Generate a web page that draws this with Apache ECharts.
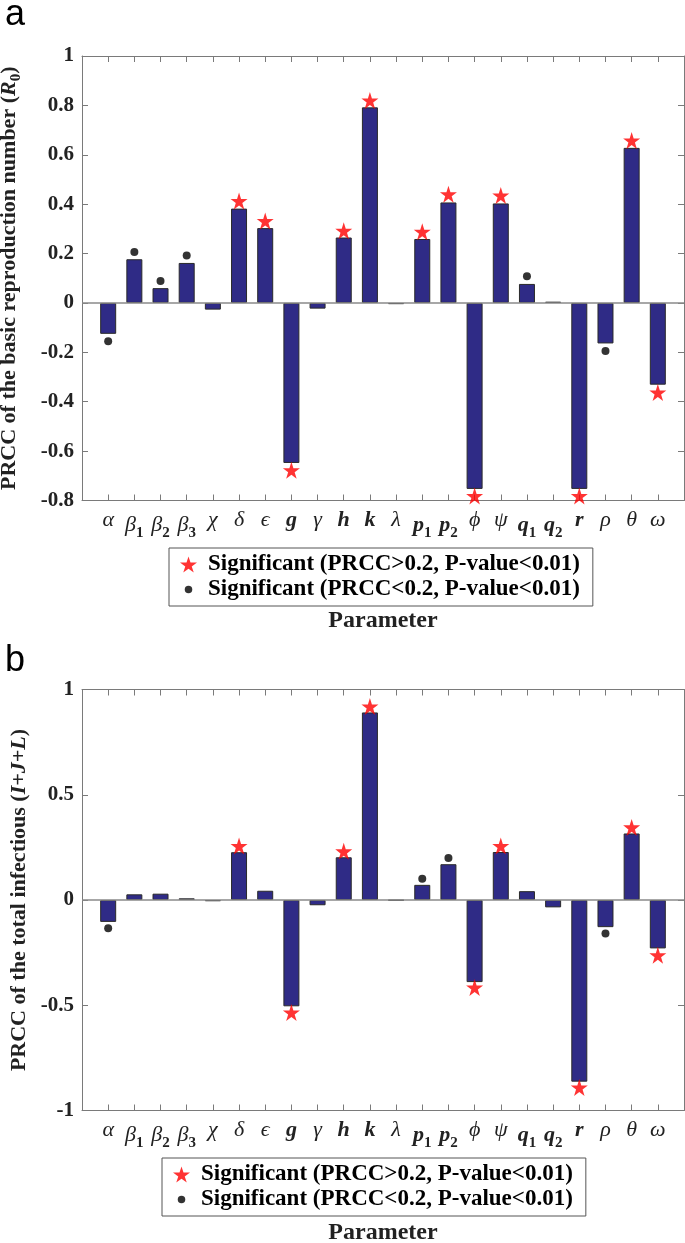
<!DOCTYPE html>
<html>
<head>
<meta charset="utf-8">
<script src="https://cdn.jsdelivr.net/npm/echarts@6/dist/echarts.min.js"></script>
<style>
html,body{margin:0;padding:0;background:#fff;}
#chart{width:685px;height:1243px;}
</style>
</head>
<body>
<div id="chart"></div>
<script>
// ---------------- data ----------------
const parameters = ['α','β_1','β_2','β_3','χ','δ','ϵ','g','γ','h','k','λ','p_1','p_2','ϕ','ψ','q_1','q_2','r','ρ','θ','ω'];

// panel a: PRCC of R0
const r0Values = [-0.125, 0.177, 0.060, 0.162, -0.027, 0.382, 0.303, -0.648, -0.023, 0.265, 0.792, -0.005,
                  0.259, 0.407, -0.753, 0.403, 0.077, 0.005, -0.753, -0.164, 0.628, -0.331];
const r0MarkerY = [-0.155, 0.206, 0.089, 0.192, null, 0.413, 0.332, -0.678, null, 0.292, 0.820, null,
                   0.288, 0.440, -0.782, 0.435, 0.108, null, -0.782, -0.195, 0.658, -0.363];
const r0Sig = ['dot','dot','dot','dot',null,'star','star','star',null,'star','star',null,
               'star','star','star','star','dot',null,'star','dot','star','star'];

// panel b: PRCC of total infectious
const infValues = [-0.104, 0.027, 0.030, 0.008, -0.006, 0.227, 0.044, -0.505, -0.025, 0.203, 0.891, -0.002,
                   0.072, 0.170, -0.390, 0.228, 0.042, -0.035, -0.863, -0.129, 0.316, -0.230];
const infMarkerY = [-0.134, null, null, null, null, 0.256, null, -0.535, null, 0.231, 0.919, null,
                    0.101, 0.200, -0.416, 0.256, null, null, -0.891, -0.159, 0.345, -0.263];
const infSig = ['dot',null,null,null,null,'star',null,'star',null,'star','star',null,
                'dot','dot','star','star',null,null,'star','dot','star','star'];

const yTicksA = {min: -0.8, max: 1, interval: 0.2};
const yTicksB = {min: -1, max: 1, interval: 0.5};

const starName = 'Significant (PRCC>0.2, P-value<0.01)';
const dotName = 'Significant (PRCC<0.2, P-value<0.01)';
const yNameA = '{t|PRCC of the basic reproduction number (}{bi|R}{s|0}{t|)}';
const yNameB = '{t|PRCC of the total infectious (}{bi|I+J+L}{t|)}';
const xName = 'Parameter';

// ---------------- styling ----------------
const SERIF = "'Liberation Serif','Times New Roman',serif";
const AX = '#7a7a7a';
const starPath = 'path://M50,0 L61.2,34.5 L97.6,34.5 L68.2,55.9 L79.4,90.5 L50,69.1 L20.6,90.5 L31.8,55.9 L2.4,34.5 L38.8,34.5 Z';
const dotIcon = 'path://M2.4,0 M97.6,90.5 M50,24 A21,21 0 1,1 50,66 A21,21 0 1,1 50,24 Z';

function labelFor(v) {
  if (Math.abs(v - Math.round(v)) > 1e-6) return '';
  const i = Math.round(v) - 1;
  if (i < 0 || i >= parameters.length) return '';
  const p = parameters[i].split('_');
  const base = /[a-z]/.test(p[0]) ? '{l|' + p[0] + '}' : '{g|' + p[0] + '}';
  return p.length > 1 ? base + '{s|' + p[1] + '}' : base;
}
const xRich = {
  g: {fontFamily: SERIF, fontStyle: 'italic', fontSize: 22, color: '#222'},
  l: {fontFamily: SERIF, fontStyle: 'italic', fontWeight: 'bold', fontSize: 22, color: '#222'},
  s: {fontFamily: SERIF, fontWeight: 'bold', fontSize: 15, color: '#222', padding: [16, 0, 0, 0]}
};
const nameRich = {
  t: {fontFamily: SERIF, fontWeight: 'bold', fontSize: 22, color: '#222'},
  bi: {fontFamily: SERIF, fontWeight: 'bold', fontStyle: 'italic', fontSize: 22, color: '#222'},
  s: {fontFamily: SERIF, fontWeight: 'bold', fontSize: 15, color: '#222', padding: [14, 0, 0, 0]}
};

function xAxesFor(g) {
  const common = {gridIndex: g, type: 'value', min: 0, max: parameters.length + 1, interval: 1,
    axisLine: {onZero: false, lineStyle: {color: AX, width: 1}},
    axisTick: {inside: true, length: 6, lineStyle: {color: AX}},
    splitLine: {show: false}};
  return [
    Object.assign({}, common, {position: 'bottom',
      axisLabel: {formatter: labelFor, rich: xRich, margin: 9},
      name: xName, nameLocation: 'middle', nameGap: g === 0 ? 108 : 110,
      nameTextStyle: {fontFamily: SERIF, fontWeight: 'bold', fontSize: 24, color: '#222'}}),
    Object.assign({}, common, {position: 'top', axisLabel: {show: false}})
  ];
}
function yAxesFor(g, t, name, gap) {
  const common = {gridIndex: g, type: 'value', min: t.min, max: t.max, interval: t.interval,
    axisLine: {onZero: false, lineStyle: {color: AX, width: 1}},
    axisTick: {inside: true, length: 6, lineStyle: {color: AX}},
    splitLine: {show: false}};
  return [
    Object.assign({}, common, {position: 'left',
      axisLabel: {fontFamily: SERIF, fontWeight: 'bold', fontSize: 21, color: '#222', margin: 8,
        formatter: v => String(+v.toFixed(2))},
      name: name, nameLocation: 'middle', nameGap: gap,
      nameTextStyle: {rich: nameRich}}),
    Object.assign({}, common, {position: 'right', axisLabel: {show: false}})
  ];
}
function seriesFor(g, values, markerY, sig) {
  const bars = values.map((v, i) => [i + 1, v]);
  const stars = [], dots = [];
  sig.forEach((s, i) => {
    if (s === 'star') stars.push([i + 1, markerY[i]]);
    else if (s === 'dot') dots.push([i + 1, markerY[i]]);
  });
  const xi = g * 2, yi = g * 2;
  return [
    {type: 'bar', xAxisIndex: xi, yAxisIndex: yi, data: bars, barWidth: 16,
      itemStyle: {color: '#2f2b86', borderColor: '#2a2a2a', borderWidth: 1},
      markLine: {silent: true, symbol: 'none', label: {show: false},
        lineStyle: {color: '#8a8a8a', width: 1.5, type: 'solid'}, data: [{yAxis: 0}]},
      z: 2},
    {type: 'scatter', name: starName, xAxisIndex: xi, yAxisIndex: yi, data: stars,
      symbol: starPath, symbolSize: 17, itemStyle: {color: '#ff0000'}, z: 3},
    {type: 'scatter', name: dotName, xAxisIndex: xi, yAxisIndex: yi, data: dots,
      symbol: 'circle', symbolSize: 8, itemStyle: {color: '#000'}, z: 3}
  ];
}
function legendFor(left, top) {
  return {left: left, top: top, orient: 'vertical', itemGap: 0, itemWidth: 17, itemHeight: 17,
    padding: [4, 13, 4, 11], borderColor: '#555', borderWidth: 1, backgroundColor: '#fff',
    selectedMode: false,
    textStyle: {fontFamily: SERIF, fontWeight: 'bold', fontSize: 23, color: '#000', lineHeight: 25, padding: [0, 0, 0, 6]},
    data: [{name: starName, icon: starPath}, {name: dotName, icon: dotIcon}]};
}

const option = {
  animation: false,
  backgroundColor: '#fff',
  title: [
    {text: 'a', left: 0, top: -8, textStyle: {fontFamily: "'Liberation Sans',Arial,sans-serif", fontWeight: 'normal', fontSize: 36, color: '#000'}},
    {text: 'b', left: 0, top: 638, textStyle: {fontFamily: "'Liberation Sans',Arial,sans-serif", fontWeight: 'normal', fontSize: 36, color: '#000'}}
  ],
  grid: [
    {left: 82, top: 56, width: 602, height: 444.5, outerBoundsMode: 'none', containLabel: false},
    {left: 82, top: 689.5, width: 602, height: 421, outerBoundsMode: 'none', containLabel: false}
  ],
  legend: [legendFor(169, 548), legendFor(162, 1158)],
  xAxis: xAxesFor(0).concat(xAxesFor(1)),
  yAxis: yAxesFor(0, yTicksA, yNameA, 58).concat(yAxesFor(1, yTicksB, yNameB, 52)),
  series: seriesFor(0, r0Values, r0MarkerY, r0Sig).concat(seriesFor(1, infValues, infMarkerY, infSig))
};
const chart = echarts.init(document.getElementById('chart'), null, {renderer: 'canvas'});
chart.setOption(option);
</script>
</body>
</html>
